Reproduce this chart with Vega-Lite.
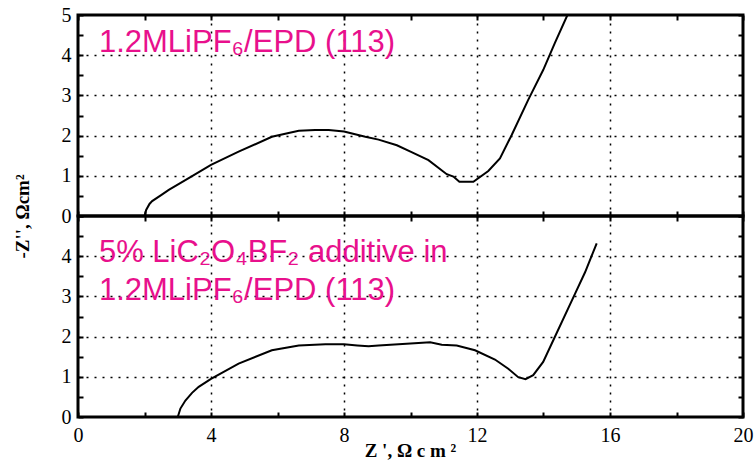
{
  "$schema": "https://vega.github.io/schema/vega-lite/v6.json",
  "autosize": {"type": "pad"},
  "padding": {"left": 11, "top": 3, "right": 1, "bottom": 18},
  "background": "white",
  "spacing": 0,
  "bounds": "flush",
  "config": {
    "view": {"stroke": "black", "strokeWidth": 3},
    "axis": {
      "domain": false,
      "tickColor": "black",
      "tickWidth": 2,
      "tickSize": -5,
      "labelFlush": false,
      "labelOverlap": false,
      "labelFont": "Liberation Serif",
      "labelFontSize": 20,
      "labelColor": "black",
      "titleFont": "Liberation Serif",
      "titleFontSize": 19,
      "titleFontWeight": "bold",
      "titleColor": "black",
      "gridColor": "black",
      "gridDash": [2, 6],
      "gridWidth": 1.5
    }
  },
  "datasets": {
    "top": [
      {"x": 2.0, "y": 0}, {"x": 2.05, "y": 0.15}, {"x": 2.15, "y": 0.3}, {"x": 2.23, "y": 0.37},
      {"x": 2.5, "y": 0.52}, {"x": 2.73, "y": 0.65}, {"x": 3.33, "y": 0.94}, {"x": 4.0, "y": 1.27},
      {"x": 4.83, "y": 1.6}, {"x": 5.83, "y": 1.97}, {"x": 6.3, "y": 2.06}, {"x": 6.64, "y": 2.12},
      {"x": 7.13, "y": 2.14}, {"x": 7.54, "y": 2.14}, {"x": 8.0, "y": 2.1}, {"x": 8.64, "y": 1.97},
      {"x": 9.04, "y": 1.9}, {"x": 9.59, "y": 1.76}, {"x": 10.0, "y": 1.6}, {"x": 10.54, "y": 1.39},
      {"x": 11.09, "y": 1.04}, {"x": 11.29, "y": 0.98}, {"x": 11.47, "y": 0.85}, {"x": 11.89, "y": 0.85},
      {"x": 12.34, "y": 1.12}, {"x": 12.69, "y": 1.43}, {"x": 13.04, "y": 2.01}, {"x": 13.54, "y": 2.89},
      {"x": 13.99, "y": 3.63}, {"x": 14.34, "y": 4.3}, {"x": 14.72, "y": 5.0}
    ],
    "bottom": [
      {"x": 3.0, "y": 0}, {"x": 3.08, "y": 0.21}, {"x": 3.23, "y": 0.41}, {"x": 3.43, "y": 0.6},
      {"x": 3.63, "y": 0.75},
      {"x": 4.0, "y": 0.95}, {"x": 4.83, "y": 1.33}, {"x": 5.83, "y": 1.66}, {"x": 6.64, "y": 1.78},
      {"x": 7.44, "y": 1.81}, {"x": 8.0, "y": 1.81}, {"x": 8.4, "y": 1.78}, {"x": 8.74, "y": 1.76},
      {"x": 9.04, "y": 1.78}, {"x": 9.64, "y": 1.81}, {"x": 10.24, "y": 1.84}, {"x": 10.59, "y": 1.86},
      {"x": 10.94, "y": 1.8}, {"x": 11.39, "y": 1.78}, {"x": 11.94, "y": 1.66}, {"x": 12.54, "y": 1.43},
      {"x": 12.94, "y": 1.2}, {"x": 13.24, "y": 0.99}, {"x": 13.46, "y": 0.94}, {"x": 13.69, "y": 1.04},
      {"x": 13.99, "y": 1.37}, {"x": 14.34, "y": 1.99}, {"x": 14.95, "y": 3.07}, {"x": 15.25, "y": 3.6},
      {"x": 15.6, "y": 4.32}
    ],
    "labelsTop": [
      {"x": 0.63, "y": 4.08, "text": "1.2MLiPF₆/EPD (113)"}
    ],
    "labelsBottom": [
      {"x": 0.63, "y": 3.86, "text": "5% LiC₂O₄BF₂ additive in"},
      {"x": 0.63, "y": 2.92, "text": "1.2MLiPF₆/EPD (113)"}
    ]
  },
  "vconcat": [
    {
      "width": 665,
      "height": 201,
      "layer": [
        {
          "data": {"name": "top"},
          "mark": {"type": "line", "color": "black", "strokeWidth": 2, "clip": true},
          "encoding": {
            "x": {"field": "x", "type": "quantitative", "scale": {"domain": [0, 20], "nice": false},
              "axis": {"orient": "bottom", "values": [0, 2, 4, 6, 8, 10, 12, 14, 16, 18, 20], "labels": false, "title": null,
                "grid": true, "gridOpacity": {"condition": {"test": "datum.value % 4 === 0 && datum.value > 0 && datum.value < 20", "value": 1}, "value": 0}}},
            "y": {"field": "y", "type": "quantitative", "scale": {"domain": [0, 5], "nice": false},
              "axis": {"orient": "left", "values": [0, 0.5, 1, 1.5, 2, 2.5, 3, 3.5, 4, 4.5, 5],
                "labelExpr": "datum.value % 1 === 0 ? '' + datum.value : ''", "labelPadding": 12,
                "grid": true, "gridOpacity": {"condition": {"test": "datum.value % 1 === 0 && datum.value > 0 && datum.value < 5", "value": 1}, "value": 0},
                "title": "-Z'', Ωcm²", "titleX": -56, "titleY": 201, "titleAngle": -90, "titleAlign": "center", "titleBaseline": "middle"}}
          }
        },
        {
          "data": {"name": "top"},
          "mark": {"type": "line", "opacity": 0},
          "encoding": {
            "x": {"field": "x", "type": "quantitative",
              "axis": {"orient": "top", "values": [0, 2, 4, 6, 8, 10, 12, 14, 16, 18, 20], "labels": false, "title": null, "grid": false}},
            "y": {"field": "y", "type": "quantitative",
              "axis": {"orient": "right", "values": [0, 0.5, 1, 1.5, 2, 2.5, 3, 3.5, 4, 4.5, 5], "labels": false, "title": null, "grid": false}}
          }
        },
        {
          "data": {"name": "labelsTop"},
          "mark": {"type": "text", "align": "left", "baseline": "alphabetic", "font": "Liberation Sans", "fontSize": 31, "color": "#e8108c"},
          "encoding": {
            "x": {"field": "x", "type": "quantitative", "axis": null},
            "y": {"field": "y", "type": "quantitative", "axis": null},
            "text": {"field": "text"}
          }
        }
      ],
      "resolve": {"axis": {"x": "independent", "y": "independent"}}
    },
    {
      "width": 665,
      "height": 201,
      "layer": [
        {
          "data": {"name": "bottom"},
          "mark": {"type": "line", "color": "black", "strokeWidth": 2, "clip": true},
          "encoding": {
            "x": {"field": "x", "type": "quantitative", "scale": {"domain": [0, 20], "nice": false},
              "axis": {"orient": "bottom", "values": [0, 2, 4, 6, 8, 10, 12, 14, 16, 18, 20],
                "labelExpr": "datum.value % 4 === 0 ? '' + datum.value : ''", "labelPadding": 13,
                "grid": true, "gridOpacity": {"condition": {"test": "datum.value % 4 === 0 && datum.value > 0 && datum.value < 20", "value": 1}, "value": 0},
                "title": "Z ', Ω c m ²", "titleX": 332, "titleY": 39, "titleAlign": "center", "titleBaseline": "alphabetic"}},
            "y": {"field": "y", "type": "quantitative", "scale": {"domain": [0, 5], "nice": false},
              "axis": {"orient": "left", "values": [0, 0.5, 1, 1.5, 2, 2.5, 3, 3.5, 4, 4.5, 5],
                "labelExpr": "datum.value % 1 === 0 && datum.value < 5 ? '' + datum.value : ''", "labelPadding": 12,
                "grid": true, "gridOpacity": {"condition": {"test": "datum.value % 1 === 0 && datum.value > 0 && datum.value < 5", "value": 1}, "value": 0},
                "title": null}}
          }
        },
        {
          "data": {"name": "bottom"},
          "mark": {"type": "line", "opacity": 0},
          "encoding": {
            "x": {"field": "x", "type": "quantitative",
              "axis": {"orient": "top", "values": [0, 2, 4, 6, 8, 10, 12, 14, 16, 18, 20], "labels": false, "title": null, "grid": false}},
            "y": {"field": "y", "type": "quantitative",
              "axis": {"orient": "right", "values": [0, 0.5, 1, 1.5, 2, 2.5, 3, 3.5, 4, 4.5, 5], "labels": false, "title": null, "grid": false}}
          }
        },
        {
          "data": {"name": "labelsBottom"},
          "mark": {"type": "text", "align": "left", "baseline": "alphabetic", "font": "Liberation Sans", "fontSize": 31, "color": "#e8108c"},
          "encoding": {
            "x": {"field": "x", "type": "quantitative", "axis": null},
            "y": {"field": "y", "type": "quantitative", "axis": null},
            "text": {"field": "text"}
          }
        }
      ],
      "resolve": {"axis": {"x": "independent", "y": "independent"}}
    }
  ]
}
